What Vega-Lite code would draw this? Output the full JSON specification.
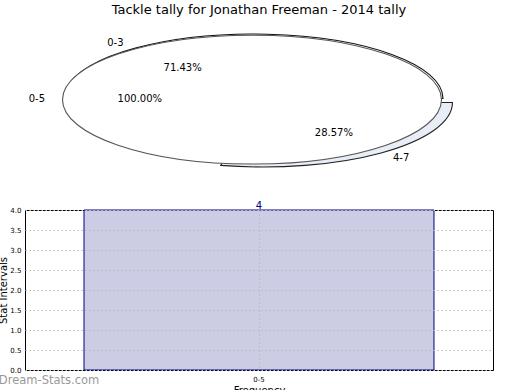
{
  "$schema": "https://vega.github.io/schema/vega-lite/v6.json",
  "padding": {"top": 4, "left": -2, "right": 0, "bottom": 0},
  "background": "white",
  "bounds": "flush",
  "spacing": 33,
  "title": {"text": "Tackle tally for Jonathan Freeman - 2014 tally", "fontSize": 13, "fontWeight": "normal", "color": "#000000", "anchor": "middle", "dx": 13, "offset": 3},
  "config": {
    "font": "DejaVu Sans",
    "view": {"stroke": null},
    "axis": {"labelColor": "#000000", "titleColor": "#000000", "titleFontWeight": "normal"}
  },
  "vconcat": [
    {
      "width": 457,
      "height": 157,
      "data": {"values": [
        {"pie": "outer", "range": "0-3", "count": 5},
        {"pie": "outer", "range": "4-7", "count": 2},
        {"pie": "inner", "range": "0-5", "count": 4}
      ]},
      "layer": [
        {
          "mark": {"type": "point", "filled": true, "size": 143641, "opacity": 1, "strokeWidth": 1.1},
          "encoding": {
            "x": {"datum": 0, "type": "quantitative", "scale": {"domain": [-1.2058, 1.2058]}, "axis": null},
            "y": {"datum": 0, "type": "quantitative", "scale": {"domain": [-1.217, 1.217]}, "axis": null},
            "shape": {"field": "range", "type": "nominal", "legend": null, "scale": {"domain": ["0-3", "4-7", "0-5"], "range": [
              "M0,0L1,0A1,0.34,0,1,0,-0.2225,0.3315Z",
              "M0.0499,0.0213L-0.1726,0.3528A1,0.34,0,0,0,1.0499,0.0213Z",
              "M-1.008,0.006A1,0.34,0,1,0,0.992,0.006A1,0.34,0,1,0,-1.008,0.006Z"
            ]}},
            "fill": {"field": "range", "type": "nominal", "legend": null, "scale": {"domain": ["0-3", "4-7", "0-5"], "range": ["#ffffff", "#e8edf8", "#ffffff"]}},
            "stroke": {"field": "range", "type": "nominal", "legend": null, "scale": {"domain": ["0-3", "4-7", "0-5"], "range": ["#111111", "#222222", "#555555"]}}
          }
        },
        {
          "transform": [
            {"joinaggregate": [{"op": "sum", "field": "count", "as": "total"}], "groupby": ["pie"]},
            {"window": [{"op": "sum", "field": "count", "as": "cum"}], "groupby": ["pie"], "frame": [null, 0]},
            {"calculate": "2*PI*(datum.cum - datum.count/2)/datum.total", "as": "mid"},
            {"calculate": "datum.range == '4-7' ? 0.08 : 0", "as": "explode"},
            {"calculate": "(1.1+datum.explode)*cos(datum.mid)", "as": "lx"},
            {"calculate": "(1.1+datum.explode)*sin(datum.mid)", "as": "ly"}
          ],
          "mark": {"type": "text", "fontSize": 10, "color": "#000000", "baseline": "middle", "align": {"expr": "datum.lx < 0 ? 'right' : 'left'"}},
          "encoding": {
            "x": {"field": "lx", "type": "quantitative", "scale": {"domain": [-1.2058, 1.2058]}, "axis": null},
            "y": {"field": "ly", "type": "quantitative", "scale": {"domain": [-1.217, 1.217]}, "axis": null},
            "text": {"field": "range"}
          }
        },
        {
          "transform": [
            {"joinaggregate": [{"op": "sum", "field": "count", "as": "total"}], "groupby": ["pie"]},
            {"window": [{"op": "sum", "field": "count", "as": "cum"}], "groupby": ["pie"], "frame": [null, 0]},
            {"calculate": "2*PI*(datum.cum - datum.count/2)/datum.total", "as": "mid"},
            {"calculate": "datum.range == '4-7' ? 0.08 : 0", "as": "explode"},
            {"calculate": "(0.6+datum.explode)*cos(datum.mid)", "as": "px"},
            {"calculate": "(0.6+datum.explode)*sin(datum.mid)", "as": "py"},
            {"calculate": "format(datum.count/datum.total, '.2%')", "as": "pct"}
          ],
          "mark": {"type": "text", "fontSize": 10, "color": "#000000", "baseline": "middle", "align": "center"},
          "encoding": {
            "x": {"field": "px", "type": "quantitative", "scale": {"domain": [-1.2058, 1.2058]}, "axis": null},
            "y": {"field": "py", "type": "quantitative", "scale": {"domain": [-1.217, 1.217]}, "axis": null},
            "text": {"field": "pct"}
          }
        }
      ]
    },
    {
      "width": 468,
      "height": 160,
      "view": {"stroke": "#000000", "strokeWidth": 1},
      "title": {"text": "Dream-Stats.com", "orient": "bottom", "anchor": "start", "frame": "bounds", "offset": -20, "fontSize": 11.5, "fontWeight": "normal", "color": "#999999"},
      "data": {"values": [{"interval": "0-5", "frequency": 4}]},
      "encoding": {
        "x": {"field": "interval", "type": "nominal", "scale": {"paddingInner": 0, "paddingOuter": 0.1686},
          "axis": {"title": "Frequency", "labelAngle": 0, "labelFontSize": 7, "titleFontSize": 10, "grid": true, "gridDash": [1.5, 2.5], "gridColor": "#bbbbbb", "domain": false, "ticks": false, "labelPadding": 5, "titlePadding": 3, "zindex": 1}},
        "y": {"field": "frequency", "type": "quantitative", "scale": {"domain": [0, 4], "nice": false},
          "axis": {"title": "Stat Intervals", "values": [0, 0.5, 1, 1.5, 2, 2.5, 3, 3.5, 4], "format": ".1f", "labelFontSize": 7, "titleFontSize": 10, "grid": true, "gridDash": [1.5, 2.5], "gridColor": "#bbbbbb", "domain": false, "ticks": false, "labelPadding": 4, "titlePadding": 1, "zindex": 1}}
      },
      "layer": [
        {"mark": {"type": "bar", "fill": "#ccccE5", "stroke": "#000080", "strokeWidth": 1}},
        {"mark": {"type": "text", "baseline": "bottom", "dy": 1, "color": "#000080", "fontSize": 10}, "encoding": {"text": {"field": "frequency"}}}
      ]
    }
  ]
}
